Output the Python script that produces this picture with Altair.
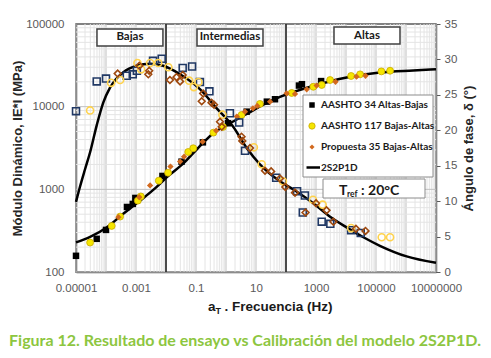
import altair as alt
import pandas as pd

# ---------------- values ----------------
# Phase angle (right axis, degrees) - hollow markers
a34_ph_f = [1.0e-5, 4.9e-5, 1.0e-4, 4.9e-4, 7.8e-4, 1.07e-3, 3.7e-3, 7.2e-3, 0.036, 0.074,
            0.135, 0.28, 1.35, 2.75, 4.3, 47, 234, 363, 427, 1550, 3000, 14800, 31000]
a34_ph = [22.7, 26.9, 27.3, 27.7, 27.9, 28.4, 29.8, 30.1, 28.8, 29.0,
          26.8, 25.5, 22.4, 21.1, 17.1, 13.3, 11.4, 8.4, 10.8, 7.1, 6.8, 5.9, 5.5]

a117_ph_f = [2.95e-5, 1.48e-4, 2.95e-4, 1.12e-3, 1.48e-3, 2.95e-3, 5.5e-3, 0.012, 0.059, 0.085,
             0.12, 0.76, 8.5, 15.5, 79, 794, 1660, 14800, 155000, 295000]
a117_ph = [22.8, 26.7, 27.1, 29.5, 28.6, 29.5, 29.5, 28.9, 27.0, 26.1,
           26.8, 22.2, 17.6, 15.2, 12.8, 10.2, 9.5, 6.2, 4.9, 4.9]

p35_ph_f = [2.45e-4, 1.29e-3, 2.75e-3, 2.57e-3, 0.0135, 0.0224, 0.0295, 0.036, 0.174, 0.155,
            0.33, 0.40, 0.63, 0.72, 3.3, 3.5, 6.3, 20, 32, 63, 95, 200, 447, 1000, 2240,
            3800, 21400, 44700]
p35_ph = [28.0, 29.1, 28.4, 27.9, 27.1, 27.5, 26.9, 27.8, 25.2, 24.1,
          23.9, 23.6, 21.2, 20.5, 19.1, 18.5, 17.5, 14.3, 14.2, 13.2, 12.0, 11.2, 8.4, 9.7, 8.7,
          7.1, 6.1, 5.8]

# Dynamic modulus (left axis, MPa) - filled markers
a34_e_f = [1.0e-5, 4.9e-5, 1.0e-4, 5.0e-4, 7.8e-4, 9.5e-4, 7.6e-3, 0.033, 0.17, 1.17,
           4.9, 23, 43, 270, 340, 1480]
a34_e = [157, 252, 323, 612, 666, 787, 1452, 2162, 3700, 6300,
         8700, 11500, 12300, 18000, 18700, 20400]

a117_e_f = [2.95e-5, 1.55e-4, 2.95e-4, 1.15e-3, 1.45e-3, 5.75e-3, 0.0117, 0.055, 0.081, 0.38,
            0.79, 3.3, 13.5, 155, 813, 1550, 2950, 14800, 29500, 151000, 295000]
a117_e = [227, 361, 468, 730, 820, 1273, 1590, 2830, 3140, 4850,
          5690, 7930, 10800, 14650, 17400, 18300, 21000, 23500, 24600, 26700, 27200]

p35_e_f = [2.6e-4, 1.29e-3, 2.95e-3, 0.0141, 0.0295, 0.040, 0.166, 0.47, 2.3, 4.3,
           7.9, 11, 29.5, 105, 200, 490, 1050, 4470, 22400, 44700]
p35_e = [460, 803, 1114, 1885, 2164, 2486, 3776, 5130, 7590, 8710,
         9550, 10200, 11500, 14500, 14260, 16200, 18000, 20000, 23060, 23660]

# 2S2P1D model curves
mod_e_f = [1e-5, 2.95e-5, 1.05e-4, 2.95e-4, 1.05e-3, 4.9e-3, 0.0105, 0.038, 0.117, 0.37,
           1.35, 4.9, 17, 63, 813, 10500, 135000, 1.74e6, 1e7]
mod_e = [228, 266, 346, 470, 676, 1070, 1393, 2056, 3160, 4745,
         6270, 8160, 10500, 13100, 17800, 22540, 25900, 27400, 28300]

mod_ph_f = [1e-5, 1.35e-5, 2.0e-5, 2.95e-5, 4.9e-5, 8.1e-5, 1.35e-4, 2.14e-4, 3.8e-4, 1.05e-3,
            2.95e-3, 8.1e-3, 0.0295, 0.135, 0.49, 1.74, 4.9, 13.5, 63, 200, 813, 2950,
            10500, 38000, 135000, 1.05e6, 1e7]
mod_ph = [9.9, 12.0, 14.5, 16.9, 20.7, 23.9, 26.0, 27.2, 28.2, 29.1,
          29.4, 29.1, 27.9, 25.8, 23.1, 20.5, 17.5, 15.2, 12.8, 11.5, 9.7, 7.8,
          6.3, 4.9, 3.7, 2.2, 1.3]

# frequency zone limits (Hz) and labels
zone_limits = [0.01, 100]
zone_labels = ["Bajas", "Intermedias", "Altas"]

legend_labels = ["AASHTO 34 Altas-Bajas", "AASHTO 117 Bajas-Altas",
                 "Propuesta 35 Bajas-Altas", "2S2P1D"]
x_ticks = [1e-5, 1e-3, 0.1, 10, 1000, 1e5, 1e7]
e_ticks = [100, 1000, 10000, 100000]
ph_ticks = [0, 5, 10, 15, 20, 25, 30, 35]

# ---------------- chart ----------------
FONT = "Liberation Sans"
LFONT = "Lato"
W, H = 360, 248

xs = alt.Scale(type="log", domain=[1e-5, 1e7])
ye = alt.Scale(type="log", domain=[100, 100000])
yp = alt.Scale(domain=[0, 35])

xax = alt.Axis(values=x_ticks, grid=False, ticks=False, title=None, labelPadding=10,
               labelOverlap=False, labelFlush=False, domainColor="#595959", domainWidth=1.5,
               labelExpr="datum.value >= 1 ? format(datum.value, 'd') : format(datum.value, '.5~f')")
yeax = alt.Axis(values=e_ticks, format="d", grid=False, ticks=False, orient="left",
                labelPadding=12, domainColor="#595959", domainWidth=1.5,
                title="Módulo Dinámico, IE*I (MPa)", titleFontSize=13, titlePadding=1)
ypax = alt.Axis(values=ph_ticks, grid=False, ticks=True, tickSize=4, tickColor="#595959",
                orient="right", labelPadding=4, domainColor="#595959", domainWidth=1.5,
                title="Ángulo de fase, δ (°)", titleFontSize=13, titleAngle=270,
                titleBaseline="top", titlePadding=6)


def X(field):
    return alt.X(f"{field}:Q", scale=xs, axis=xax)


def YE(field):
    return alt.Y(f"{field}:Q", scale=ye, axis=yeax)


def YP(field):
    return alt.Y(f"{field}:Q", scale=yp, axis=ypax)


# grid lines
gx = []
for d in range(-5, 7):
    for m in range(1, 10):
        gx.append({"f": m * 10.0 ** d, "c": "#c0c0c0" if m == 1 else "#e4e4e4", "o": 1 if m == 1 else 0})
gx.append({"f": 1e7, "c": "#c0c0c0", "o": 1})
gy = []
for d in range(2, 5):
    for m in range(1, 10):
        gy.append({"E": m * 10.0 ** d, "c": "#c0c0c0" if m == 1 else "#e4e4e4", "o": 1 if m == 1 else 0})
gx_df = pd.DataFrame(gx).sort_values("o")
gy_df = pd.DataFrame(gy).sort_values("o")

grid_x = alt.Chart(gx_df).mark_rule(strokeWidth=1).encode(
    x=X("f"), color=alt.Color("c:N", scale=None), order="o:Q")
grid_y = alt.Chart(gy_df).mark_rule(strokeWidth=1).encode(
    y=YE("E"), color=alt.Color("c:N", scale=None), order="o:Q")

zone_lines = alt.Chart(pd.DataFrame({"f": zone_limits})).mark_rule(
    color="#1a1a1a", strokeWidth=1.5).encode(x=X("f"))

zones = pd.DataFrame({
    "label": zone_labels,
    "x0": [5.0e-5, 0.108, 3980],
    "x1": [7.9e-3, 17.1, 631000],
    "y0": [87000, 87000, 91900],
    "y1": [54200, 54200, 57300],
})
zones["xc"] = (zones["x0"] * zones["x1"]) ** 0.5
zones["yc"] = (zones["y0"] * zones["y1"]) ** 0.5
zone_box = alt.Chart(zones).mark_rect(fill="white", stroke="#404040", strokeWidth=1.5).encode(
    x=X("x0"), x2="x1:Q", y=YE("y0"), y2="y1:Q")
zone_txt = alt.Chart(zones).mark_text(font=LFONT, fontWeight="bold", fontSize=11.5,
                                      color="#1a1a1a", baseline="middle").encode(
    x=X("xc"), y=YE("yc"), text="label:N")

e_line = alt.Chart(pd.DataFrame({"f": mod_e_f, "E": mod_e})).mark_line(
    color="black", strokeWidth=2.5, interpolate="monotone").encode(x=X("f"), y=YE("E"))
e34 = alt.Chart(pd.DataFrame({"f": a34_e_f, "E": a34_e})).mark_point(
    shape="square", filled=True, color="black", size=42, opacity=1).encode(x=X("f"), y=YE("E"))
e117 = alt.Chart(pd.DataFrame({"f": a117_e_f, "E": a117_e})).mark_point(
    shape="circle", filled=True, fill="#F5E600", stroke="#C9A800", strokeWidth=0.8,
    size=48, opacity=1).encode(x=X("f"), y=YE("E"))
e35 = alt.Chart(pd.DataFrame({"f": p35_e_f, "E": p35_e})).mark_point(
    shape="diamond", filled=True, color="#D2691E", size=40, opacity=1).encode(x=X("f"), y=YE("E"))

e_group = alt.layer(grid_x, grid_y, zone_lines, zone_box, zone_txt, e_line, e34, e117, e35)

p_line = alt.Chart(pd.DataFrame({"f": mod_ph_f, "P": mod_ph})).mark_line(
    color="black", strokeWidth=2.5, interpolate="monotone").encode(x=X("f"), y=YP("P"))
p34 = alt.Chart(pd.DataFrame({"f": a34_ph_f, "P": a34_ph})).mark_point(
    shape="square", filled=False, color="#203864", strokeWidth=1.6, size=48,
    opacity=1).encode(x=X("f"), y=YP("P"))
p117 = alt.Chart(pd.DataFrame({"f": a117_ph_f, "P": a117_ph})).mark_point(
    shape="circle", filled=False, color="#FFD34D", strokeWidth=1.6, size=50,
    opacity=1).encode(x=X("f"), y=YP("P"))
p35 = alt.Chart(pd.DataFrame({"f": p35_ph_f, "P": p35_ph})).mark_point(
    shape="diamond", filled=False, color="#9E480E", strokeWidth=1.6, size=46,
    opacity=1).encode(x=X("f"), y=YP("P"))

p_group = alt.layer(p_line, p34, p117, p35)

# annotations: legend, T_ref box, x title, caption
one = pd.DataFrame({"k": [0]})
leg_box = alt.Chart(one).mark_rect(fill="white", stroke="#8c8c8c", strokeWidth=1).encode(
    x=alt.value(227), x2=alt.value(357), y=alt.value(71), y2=alt.value(153))
leg_sq = alt.Chart(one).mark_point(shape="square", filled=True, color="black", size=30,
                                   opacity=1).encode(x=alt.value(236), y=alt.value(81))
leg_ci = alt.Chart(one).mark_point(shape="circle", filled=True, fill="#F5E600", stroke="#C9A800",
                                   strokeWidth=0.8, size=40, opacity=1).encode(
    x=alt.value(236), y=alt.value(102))
leg_di = alt.Chart(one).mark_point(shape="diamond", filled=True, color="#D2691E", size=26,
                                   opacity=1).encode(x=alt.value(236), y=alt.value(123))
leg_ln = alt.Chart(one).mark_rule(color="black", strokeWidth=2.5).encode(
    x=alt.value(230.5), x2=alt.value(244), y=alt.value(143.5))
leg_df = pd.DataFrame({"t": legend_labels, "y": [81, 102, 123, 143.5]})
leg_txt = alt.Chart(leg_df).mark_text(font=LFONT, fontWeight="bold", fontSize=10, align="left",
                                      baseline="middle", color="#1a1a1a").encode(
    x=alt.value(245), y=alt.Y("y:Q", scale=None), text="t:N")

tref_box = alt.Chart(one).mark_rect(fill="white", stroke="#8c8c8c", strokeWidth=1).encode(
    x=alt.value(247), x2=alt.value(349), y=alt.value(155), y2=alt.value(174))
tref_T = alt.Chart(one).mark_text(text="T", font=LFONT, fontWeight="bold", fontSize=14,
                                  align="left", baseline="alphabetic", color="#1a1a1a").encode(
    x=alt.value(263), y=alt.value(170.5))
tref_r = alt.Chart(one).mark_text(text="ref", font=LFONT, fontWeight="bold", fontSize=8.5,
                                  align="left", baseline="alphabetic", color="#1a1a1a").encode(
    x=alt.value(271), y=alt.value(173))
tref_v = alt.Chart(one).mark_text(text=": 20°C", font=LFONT, fontWeight="bold", fontSize=14,
                                  align="left", baseline="alphabetic", color="#1a1a1a").encode(
    x=alt.value(285), y=alt.value(170.5))

xt_a = alt.Chart(one).mark_text(text="a", font=FONT, fontWeight="bold", fontSize=13.5,
                                align="left", baseline="alphabetic", color="#1a1a1a").encode(
    x=alt.value(132), y=alt.value(286.5))
xt_T = alt.Chart(one).mark_text(text="T", font=FONT, fontWeight="bold", fontSize=9,
                                align="left", baseline="alphabetic", color="#1a1a1a").encode(
    x=alt.value(139.5), y=alt.value(290))
xt_r = alt.Chart(one).mark_text(text=". Frecuencia (Hz)", font=FONT, fontWeight="bold",
                                fontSize=13.5, align="left", baseline="alphabetic",
                                color="#1a1a1a").encode(x=alt.value(148.5), y=alt.value(286.5))

caption = alt.Chart(one).mark_text(
    text="Figura 12. Resultado de ensayo vs Calibración del modelo 2S2P1D.",
    font=LFONT, fontWeight="bold", fontSize=16, align="center", baseline="alphabetic",
    color="#8DC63F").encode(x=alt.value(169), y=alt.value(321.5))

annot = alt.layer(leg_box, leg_sq, leg_ci, leg_di, leg_ln, leg_txt, tref_box, tref_T, tref_r,
                  tref_v, xt_a, xt_T, xt_r, caption)

chart = alt.layer(e_group, p_group, annot).resolve_scale(y="independent").properties(
    width=W, height=H,
    autosize=alt.AutoSizeParams(type="none"),
    padding={"left": 68, "top": 16, "right": 47, "bottom": 78},
    background="white",
).configure_axis(
    labelFont=FONT, labelFontSize=11.5, labelColor="#595959",
    titleFont=FONT, titleFontWeight="bold", titleColor="#262626",
).configure_view(stroke="#595959", strokeWidth=1.5)

chart.save("out.html", embed_options={"renderer": "svg", "actions": False})
